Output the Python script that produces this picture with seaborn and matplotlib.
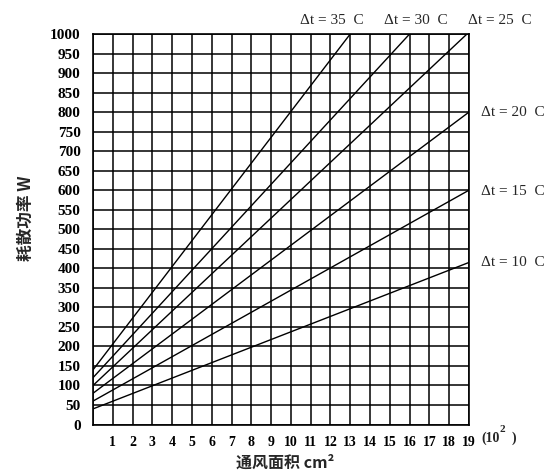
import matplotlib
matplotlib.use("Agg")
import matplotlib.pyplot as plt
import seaborn as sns
import pandas as pd

# Data (straight lines: start at area 0, end at right edge or top)
delta_t = [10, 15, 20, 25, 30, 35]
area_start = [0, 0, 0, 0, 0, 0]
power_start = [40, 60, 80, 100, 120, 140]
area_end = [19, 19, 19, 18.9, 16.0, 13.0]
power_end = [415, 600, 800, 1000, 1000, 1000]

x_ticks = list(range(1, 20))
y_ticks = list(range(0, 1001, 50))
line_labels = ["Δt = 10  C", "Δt = 15  C", "Δt = 20  C", "Δt = 25  C", "Δt = 30  C", "Δt = 35  C"]

rows = []
for dt, a0, p0, a1, p1 in zip(delta_t, area_start, power_start, area_end, power_end):
    rows.append({"dt": dt, "area": a0, "power": p0})
    rows.append({"dt": dt, "area": a1, "power": p1})
df = pd.DataFrame(rows)

sns.set_style("white")
plt.rcParams["font.family"] = ["Liberation Serif", "DejaVu Serif"]

fig = plt.figure(figsize=(5.52, 4.74), dpi=100)
ax = fig.add_axes([0.1685, 0.1044, 0.8496 - 0.1685, 0.9283 - 0.1044])

sns.lineplot(data=df, x="area", y="power", hue="dt", units="dt", estimator=None,
             palette=["black"] * len(delta_t), legend=False, linewidth=1.0, ax=ax)

ax.set_xlim(0, 19)
ax.set_ylim(0, 1000)
ax.set_xticks(range(0, 20))
ax.set_xticklabels([""] + [str(v) for v in x_ticks])
ax.set_yticks(y_ticks)
ax.set_yticklabels([str(v) for v in y_ticks])
ax.grid(True, color="black", linewidth=1.1)
ax.set_axisbelow(True)
for s in ax.spines.values():
    s.set_color("black")
    s.set_linewidth(1.2)
ax.tick_params(axis="x", length=2, pad=6, labelsize=10, colors="black")
ax.tick_params(axis="y", length=0, pad=9, labelsize=11, colors="black")
for lbl in ax.get_yticklabels() + ax.get_xticklabels():
    lbl.set_fontweight("bold")

ax.set_xlabel("")
ax.set_ylabel("")

cjk = ["Noto Sans CJK SC", "DejaVu Sans"]
fig.text(285 / 552, 1 - 463 / 474, "通风面积 cm²", family=cjk, fontsize=11.5,
         fontweight="bold", ha="center", va="center")
fig.text(26 / 552, 1 - 218 / 474, "耗散功率 W", family=cjk, fontsize=12,
         fontweight="bold", rotation=90, ha="center", va="center")
fig.text(481 / 552, 1 - 438 / 474, "(10", fontsize=10, fontweight="bold",
         ha="left", va="center")
fig.text(500 / 552, 1 - 430 / 474, "2", fontsize=8, fontweight="bold",
         ha="left", va="center")
fig.text(512 / 552, 1 - 438 / 474, ")", fontsize=10, fontweight="bold",
         ha="left", va="center")

# line labels
top_pos = {35: 332, 30: 416, 25: 500}
side_pos = {20: 112, 15: 192, 10: 263}
for dt, lab in zip(delta_t, line_labels):
    if dt in top_pos:
        fig.text(top_pos[dt] / 552, 1 - 20 / 474, lab, fontsize=11,
                 ha="center", va="center")
    else:
        fig.text(481 / 552, 1 - side_pos[dt] / 474, lab, fontsize=11,
                 ha="left", va="center")

fig.savefig("out.png", dpi=100, facecolor="white")
